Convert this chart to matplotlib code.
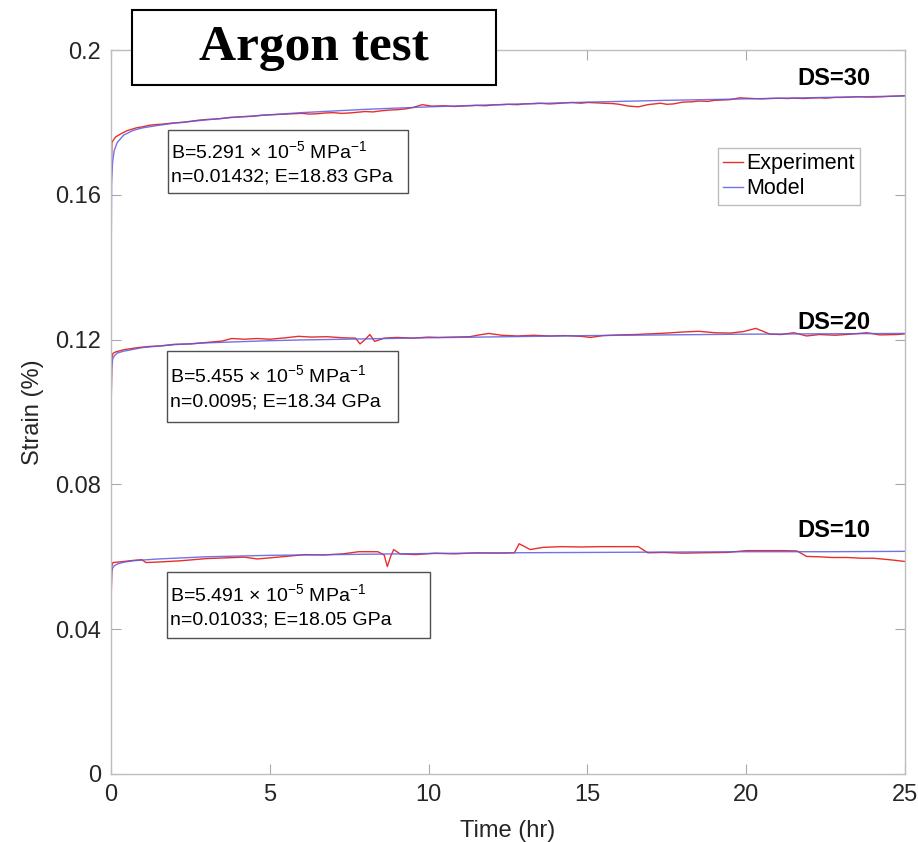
import matplotlib
matplotlib.use("Agg")
import matplotlib.pyplot as plt
from matplotlib.patches import Rectangle

plt.rcParams['font.family'] = ['Liberation Sans', 'DejaVu Sans']
plt.rcParams['mathtext.fontset'] = 'custom'
plt.rcParams['mathtext.rm'] = 'Liberation Sans'
plt.rcParams['mathtext.it'] = 'Liberation Sans:italic'

# ---- model curves ----
t_model = [0, 0.005, 0.02, 0.05, 0.1, 0.2, 0.4, 0.7, 1.0, 1.5, 2, 3, 4, 5, 6, 8, 10,
           12.5, 15, 17.5, 20, 22.5, 25]
model_30 = [0, 0.140, 0.163, 0.169, 0.1722, 0.1745, 0.1765, 0.1778, 0.1785, 0.1792, 0.1798,
            0.1807, 0.1815, 0.1821, 0.1827, 0.1836, 0.1843, 0.1850, 0.1856, 0.1861, 0.1865,
            0.1869, 0.1873]
model_20 = [0, 0.100, 0.1120, 0.1145, 0.1155, 0.1163, 0.1168, 0.1173, 0.1178, 0.1182, 0.1186,
            0.1191, 0.1194, 0.1197, 0.1199, 0.1202, 0.1205, 0.1208, 0.1211, 0.1213, 0.1215,
            0.1216, 0.1217]
model_10 = [0, 0.050, 0.0555, 0.0568, 0.0575, 0.0580, 0.0585, 0.0589, 0.0591, 0.0594, 0.0596,
            0.0600, 0.0602, 0.0604, 0.0605, 0.0607, 0.0609, 0.0611, 0.0612, 0.0613, 0.0614,
            0.0614, 0.0615]

# ---- experiment curves ----
t_exp30 = [0, 0.01, 0.03, 0.08, 0.15, 0.3, 0.5, 0.65, 0.8, 1.0,
           1.2, 1.4, 1.6, 1.8, 2.0, 2.25, 2.5, 2.75, 3.0, 3.25,
           3.5, 3.75, 4.0, 4.25, 4.5, 4.75, 5.0, 5.25, 5.5, 5.75,
           6.0, 6.25, 6.5, 6.75, 7.0, 7.25, 7.5, 7.75, 8.0, 8.25,
           8.5, 8.75, 9.0, 9.25, 9.5, 9.8, 10.1, 10.5, 10.8, 11.0,
           11.3, 11.5, 11.8, 12.0, 12.3, 12.5, 12.8, 13.0, 13.3, 13.5,
           13.8, 14.0, 14.3, 14.5, 14.8, 15.0, 15.3, 15.5, 15.8, 16.0,
           16.3, 16.6, 16.9, 17.1, 17.3, 17.5, 17.7, 18.0, 18.3, 18.5,
           18.8, 19.0, 19.3, 19.5, 19.8, 20.2, 20.5, 20.7, 21.0, 21.3,
           21.5, 21.8, 22.0, 22.3, 22.5, 22.8, 23.0, 23.3, 23.5, 23.8,
           24.0, 24.3, 24.5, 24.8, 25.0]
exp_30 = [0, 0.165, 0.1745, 0.1752, 0.1760, 0.1768, 0.1777, 0.1781, 0.1785, 0.1788,
          0.1792, 0.1794, 0.1795, 0.1797, 0.1799, 0.1800, 0.1803, 0.1806, 0.1808, 0.1809,
          0.1811, 0.1814, 0.1815, 0.1816, 0.1817, 0.1820, 0.1821, 0.1822, 0.1823, 0.1824,
          0.1825, 0.1823, 0.1824, 0.1826, 0.1827, 0.1825, 0.1826, 0.1828, 0.1830, 0.1829,
          0.1832, 0.1834, 0.1835, 0.1837, 0.1841, 0.1849, 0.1845, 0.1846, 0.1844, 0.1845,
          0.1846, 0.1847, 0.1846, 0.1848, 0.1849, 0.1850, 0.1849, 0.1851, 0.1852, 0.1853,
          0.1851, 0.1852, 0.1854, 0.1855, 0.1853, 0.1855, 0.1854, 0.1853, 0.1852, 0.1850,
          0.1845, 0.1843, 0.1849, 0.1851, 0.1853, 0.1850, 0.1851, 0.1856, 0.1857, 0.1859,
          0.1858, 0.1861, 0.1862, 0.1863, 0.1868, 0.1866, 0.1865, 0.1866, 0.1867, 0.1866,
          0.1867, 0.1866, 0.1867, 0.1868, 0.1867, 0.1869, 0.1869, 0.1870, 0.1871, 0.1870,
          0.1870, 0.1871, 0.1872, 0.1873, 0.1874]

t_exp20 = [0, 0.01, 0.03, 0.06, 0.15, 0.4, 0.85, 1.2, 1.6, 2.0,
           2.5, 3.0, 3.5, 3.8, 4.2, 4.6, 5.0, 5.5, 5.9, 6.3,
           6.8, 7.3, 7.7, 7.84, 8.0, 8.15, 8.3, 8.6, 9.0, 9.5,
           10.0, 10.3, 10.8, 11.3, 11.6, 11.9, 12.3, 12.8, 13.3, 13.8,
           14.3, 14.8, 15.1, 15.5, 16.0, 16.5, 17.0, 17.5, 18.0, 18.5,
           19.0, 19.5, 19.9, 20.3, 20.75, 21.1, 21.5, 21.9, 22.3, 22.8,
           23.3, 23.8, 24.2, 24.75, 25.0]
exp_20 = [0, 0.105, 0.1150, 0.1162, 0.1166, 0.1172, 0.1178, 0.1181, 0.1183, 0.1187,
          0.1188, 0.1192, 0.1196, 0.1203, 0.1201, 0.1203, 0.1201, 0.1205, 0.1209, 0.1207,
          0.1208, 0.1205, 0.1204, 0.1188, 0.1200, 0.1214, 0.1195, 0.1204, 0.1206, 0.1204,
          0.1207, 0.1206, 0.1207, 0.1208, 0.1213, 0.1217, 0.1212, 0.1210, 0.1212, 0.1210,
          0.1211, 0.1209, 0.1206, 0.1211, 0.1213, 0.1214, 0.1216, 0.1218, 0.1221, 0.1223,
          0.1219, 0.1218, 0.1222, 0.1231, 0.1215, 0.1214, 0.1219, 0.1210, 0.1214, 0.1212,
          0.1215, 0.1219, 0.1213, 0.1214, 0.1216]

t_exp10 = [0, 0.01, 0.03, 0.06, 0.3, 0.7, 0.97, 1.1, 1.6, 2.2,
           3.0, 3.6, 4.2, 4.6, 5.0, 5.5, 6.1, 6.7, 7.3, 7.8,
           8.4, 8.6, 8.7, 8.8, 8.9, 9.1, 9.6, 10.2, 10.8, 11.5,
           12.2, 12.7, 12.85, 13.2, 13.6, 14.2, 14.8, 15.4, 16.0, 16.6,
           16.9, 17.4, 18.0, 18.6, 19.4, 20.0, 20.6, 21.2, 21.6, 21.9,
           22.3, 22.7, 23.2, 23.6, 24.0, 24.5, 25.0]
exp_10 = [0, 0.050, 0.0575, 0.0584, 0.0586, 0.0590, 0.0592, 0.0584, 0.0586, 0.0589,
          0.0595, 0.0597, 0.0599, 0.0594, 0.0597, 0.0601, 0.0606, 0.0605, 0.0608, 0.0614,
          0.0614, 0.0605, 0.0573, 0.0600, 0.0620, 0.0608, 0.0606, 0.0610, 0.0608, 0.0611,
          0.0610, 0.0611, 0.0636, 0.0620, 0.0626, 0.0628, 0.0627, 0.0628, 0.0628, 0.0628,
          0.0611, 0.0612, 0.0610, 0.0611, 0.0612, 0.0617, 0.0617, 0.0617, 0.0616, 0.0601,
          0.0600, 0.0598, 0.0598, 0.0596, 0.0596, 0.0592, 0.0587]

ds_labels = ['DS=30', 'DS=20', 'DS=10']
ds_label_y = [0.192, 0.1248, 0.0672]

fit_texts = [
    r'B=5.291 $\times$ 10$^{\mathregular{-5}}$ MPa$^{\mathregular{-1}}$' + '\nn=0.01432; E=18.83 GPa',
    r'B=5.455 $\times$ 10$^{\mathregular{-5}}$ MPa$^{\mathregular{-1}}$' + '\nn=0.0095; E=18.34 GPa',
    r'B=5.491 $\times$ 10$^{\mathregular{-5}}$ MPa$^{\mathregular{-1}}$' + '\nn=0.01033; E=18.05 GPa',
]
# box extents: (x0, x1, y_bottom, y_top) in data units
fit_boxes = [(1.795, 9.35, 0.16043, 0.17785),
             (1.763, 9.04, 0.09736, 0.11672),
             (1.763, 10.05, 0.03762, 0.05587)]

red = '#e8302a'
blue = '#5a5ae6'

fig = plt.figure(figsize=(9.18, 8.42), dpi=100)
ax = fig.add_axes([0.1209, 0.0808, 0.865, 0.8598])

ax.plot(t_exp30, exp_30, color=red, lw=1.0, label='Experiment')
ax.plot(t_model, model_30, color=blue, lw=1.0, alpha=0.85, label='Model')
ax.plot(t_exp20, exp_20, color=red, lw=1.0)
ax.plot(t_model, model_20, color=blue, lw=1.0, alpha=0.85)
ax.plot(t_exp10, exp_10, color=red, lw=1.0)
ax.plot(t_model, model_10, color=blue, lw=1.0, alpha=0.85)

ax.set_xlim(0, 25)
ax.set_ylim(0, 0.2)
ax.set_xticks([0, 5, 10, 15, 20, 25])
ax.set_yticks([0, 0.04, 0.08, 0.12, 0.16, 0.2])
ax.set_yticklabels(['0', '0.04', '0.08', '0.12', '0.16', '0.2'])
ax.tick_params(direction='in', length=7, width=0.8, color='#a8a8a8',
               labelsize=17, labelcolor='#262626', top=True, right=True, pad=7)
for s in ax.spines.values():
    s.set_color('#bdbdbd')
    s.set_linewidth(1.0)
ax.set_xlabel('Time (hr)', fontsize=17, color='#262626', labelpad=10)
ax.set_ylabel('Strain (%)', fontsize=17, color='#262626', labelpad=8)

for lab, y in zip(ds_labels, ds_label_y):
    ax.text(22.75, y, lab, fontsize=17, fontweight='bold', ha='center', va='center')

for txt, (x0, x1, y0, y1) in zip(fit_texts, fit_boxes):
    ax.add_patch(Rectangle((x0, y0), x1 - x0, y1 - y0, fc='white', ec='#505050', lw=1.0, zorder=4))
    ax.text(x0 + 0.1, (y0 + y1) / 2 - 0.0003, txt, fontsize=14, ha='left', va='center',
            linespacing=1.55, zorder=5)

leg = ax.legend(loc='upper right', bbox_to_anchor=(0.943, 0.865), fontsize=15.5,
                handlelength=0.9, handletextpad=0.15, borderpad=0.25, labelspacing=0.2,
                fancybox=False, framealpha=1, borderaxespad=0)
leg.get_frame().set_edgecolor('#bdbdbd')
leg.get_frame().set_linewidth(1.0)

# title box
fig.patches.append(Rectangle((132 / 918, 1 - 85 / 842), 364 / 918, 75 / 842,
                             transform=fig.transFigure, fc='white', ec='black', lw=1.5))
fig.text(314 / 918, 1 - 48 / 842, 'Argon test', fontsize=37, fontweight='bold',
         family='Liberation Serif', ha='center', va='center')

fig.savefig('out.png', dpi=100)
